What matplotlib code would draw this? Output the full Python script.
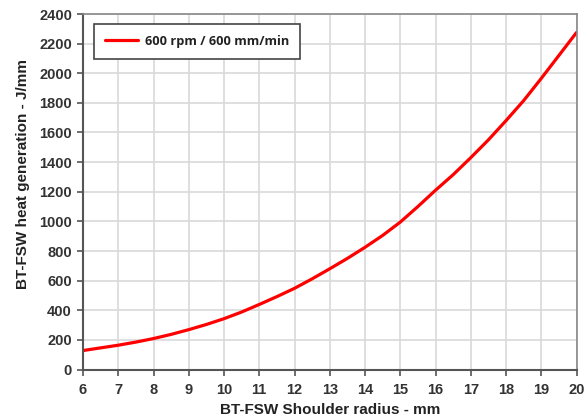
import matplotlib
matplotlib.use("Agg")
import matplotlib.pyplot as plt

radius = [6, 6.5, 7, 7.5, 8, 8.5, 9, 9.5, 10, 10.5, 11, 11.5, 12, 12.5, 13, 13.5,
          14, 14.5, 15, 15.5, 16, 16.5, 17, 17.5, 18, 18.5, 19, 19.5, 20]
heat = [128, 146, 164, 185, 209, 237, 269, 304, 343, 388, 439, 492, 548, 612, 680, 750,
        825, 905, 995, 1100, 1210, 1315, 1430, 1550, 1680, 1815, 1965, 2120, 2275]
series_label = "600 rpm / 600 mm/min"
xlabel = "BT-FSW Shoulder radius - mm"
ylabel = "BT-FSW heat generation - J/mm"

fig = plt.figure(figsize=(5.88, 4.19), dpi=100)
ax = fig.add_axes([83/588, 1-369.5/419, (576.5-83)/588, (369.5-14)/419])

ax.plot(radius, heat, color="#ff0000", lw=2.3, label=series_label,
        solid_capstyle="round", solid_joinstyle="round")

ax.set_xlim(6, 20)
ax.set_ylim(0, 2400)
ax.set_xticks(range(6, 21))
ax.set_yticks(range(0, 2401, 200))
ax.grid(True, color="#d9d9d9", lw=1.2)
ax.set_axisbelow(True)

for lab in ax.get_xticklabels() + ax.get_yticklabels():
    lab.set_fontfamily("Liberation Sans")
    lab.set_fontweight("bold")
    lab.set_fontsize(10.5)
    lab.set_color("#333333")
ax.tick_params(axis="y", direction="out", length=4, width=1.2, color="#555555", pad=4)
ax.tick_params(axis="x", direction="out", length=4, width=1.2, color="#555555", pad=6)

for s in ["left", "bottom"]:
    ax.spines[s].set_color("#555555")
    ax.spines[s].set_linewidth(1.5)
for s in ["top", "right"]:
    ax.spines[s].set_color("#888888")
    ax.spines[s].set_linewidth(1.2)

ax.set_xlabel(xlabel, fontfamily="Liberation Sans", fontweight="bold", fontsize=11, color="#222222", labelpad=4)
ax.set_ylabel(ylabel, fontfamily="Liberation Sans", fontweight="bold", fontsize=11, color="#222222")
ax.yaxis.set_label_coords(-0.107, 0.551)

leg = ax.legend(loc="upper left", bbox_to_anchor=(11/493.5, 1-10/355.5), fancybox=False,
                prop=dict(family="Open Sans", weight="bold", size=9.2),
                handlelength=2.6, borderpad=0.85, handletextpad=0.55, borderaxespad=0,
                framealpha=1)
leg.get_frame().set_edgecolor("#444444")
leg.get_frame().set_linewidth(1.2)
for t in leg.get_texts():
    t.set_color("#222222")

fig.savefig("out.png", dpi=100)
